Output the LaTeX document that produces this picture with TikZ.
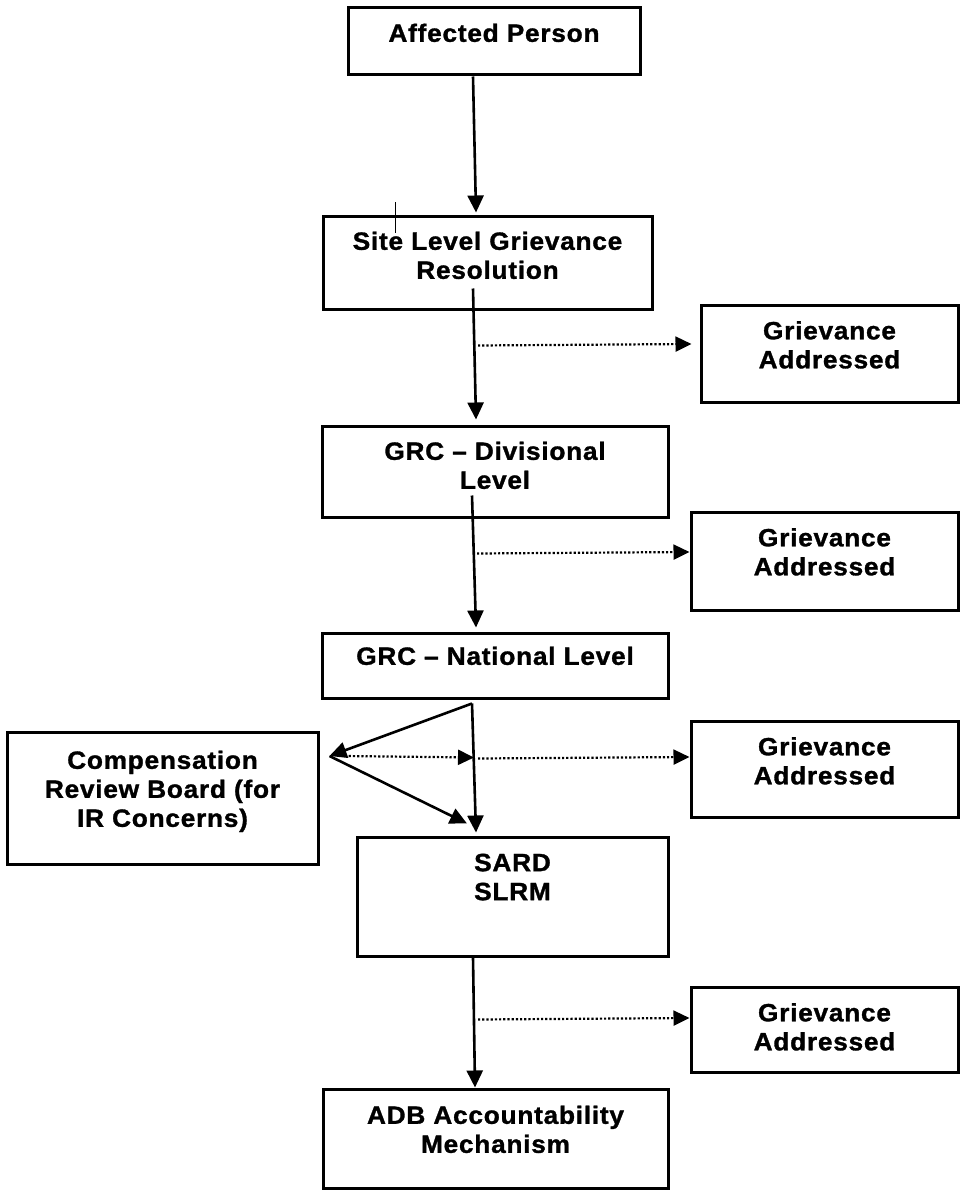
\documentclass[tikz,border=0pt]{standalone}
\usepackage{fontspec}
\newfontfamily\boxfont[LetterSpace=3, FakeStretch=1.05, FakeBold=1.2]{Liberation Sans}
\usetikzlibrary{positioning,arrows.meta,calc}

\tikzset{
  box/.style={draw, line width=3pt, inner sep=0pt},
  txt/.style={align=center, inner sep=0pt, font=\boxfont\bfseries\fontsize{25}{29}\selectfont},
  arr/.style={line width=2.6pt, -{Triangle[length=17pt,width=16pt]}},
  dotarr/.style={line width=2.2pt, dash pattern=on 2.2pt off 2pt, -{Triangle[length=16pt,width=15pt]}}
}

\begin{document}
\begin{tikzpicture}[x=1pt, y=-1pt]
\useasboundingbox (0,0) rectangle (967,1190);
% main column of levels
\node[box, minimum width=292pt, minimum height=67pt] (aff) at (494,41.5) {};
\node[txt, below=17pt of aff.north] (aff-t) {Affected Person};
\node[box, minimum width=329pt, minimum height=92pt] (site) at (487.5,263) {};
\node[txt, below=16pt of site.north] (site-t) {Site Level Grievance\\Resolution};
\node[box, minimum width=346pt, minimum height=91pt] (div) at (495,471.5) {};
\node[txt, below=17pt of div.north] (div-t) {GRC – Divisional\\Level};
\node[box, minimum width=346pt, minimum height=65pt] (nat) at (495,665.5) {};
\node[txt, below=15pt of nat.north] (nat-t) {GRC – National Level};
\node[box, minimum width=311pt, minimum height=119pt] (sard) at (512.5,896.5) {};
\node[txt, below=18pt of sard.north] (sard-t) {SARD\\SLRM};
\node[box, minimum width=345pt, minimum height=99pt] (adb) at (495.5,1138.5) {};
\node[txt, below=18pt of adb.north] (adb-t) {ADB Accountability\\Mechanism};
% side box on the left
\node[box, minimum width=311pt, minimum height=132pt] (crb) at (162.5,798) {};
\node[txt, below=20pt of crb.north] (crb-t) {Compensation\\Review Board (for\\IR Concerns)};
% exits on the right
\foreach \n/\x/\y/\w/\h in {1/829.5/353.5/257/97, 2/824.5/561/267/98, 3/824.5/769/267/96, 4/824.5/1029.5/267/85} {
  \node[box, minimum width=\w pt, minimum height=\h pt] (ga\n) at (\x,\y) {};
  \node[txt, below=17.5pt of ga\n.north] (ga\n-t) {Grievance\\Addressed};
}
% connectors
\draw[line width=1.6pt] ($(site.north west)+(74,-13)$) -- ++(0,31);
\draw[arr] ($(aff.south)+(-21,0)$) -- ($(site.north)+(-11.5,-3)$);
\draw[arr] ($(site.south)+(-14.5,-22)$) -- ($(div.north)+(-19,-5)$);
\draw[arr] ($(div.south)+(-23,-23)$) -- ($(nat.north)+(-19,-4)$);
\coordinate (split) at ($(nat.south)+(-23,4)$);
\coordinate (fork) at ($(crb.east)+(10,-42)$);
\draw[arr] (split) -- ($(sard.north)+(-36.5,-3)$);
\draw[arr] (split) -- (fork);
\draw[arr] (fork) -- ($(sard.north)+(-45.5,-12)$);
\draw[dotarr] ($(fork)+(15,0)$) -- ($(split)+(2,54)$);
\draw[arr] ($(sard.south)+(-39.5,0)$) -- ($(adb.north)+(-20.5,0)$);
\draw[dotarr] ($(site.south)+(-9.5,35)$) -- ($(ga1.west)+(-8,-9.5)$);
\draw[dotarr] ($(div.south)+(-18,35)$) -- ($(ga2.west)+(0,-9)$);
\draw[dotarr] ($(split)+(6,55)$) -- ($(ga3.west)+(0,-12)$);
\draw[dotarr] ($(sard.south)+(-34.5,62)$) -- ($(ga4.west)+(0,-11.5)$);
\end{tikzpicture}
\end{document}
